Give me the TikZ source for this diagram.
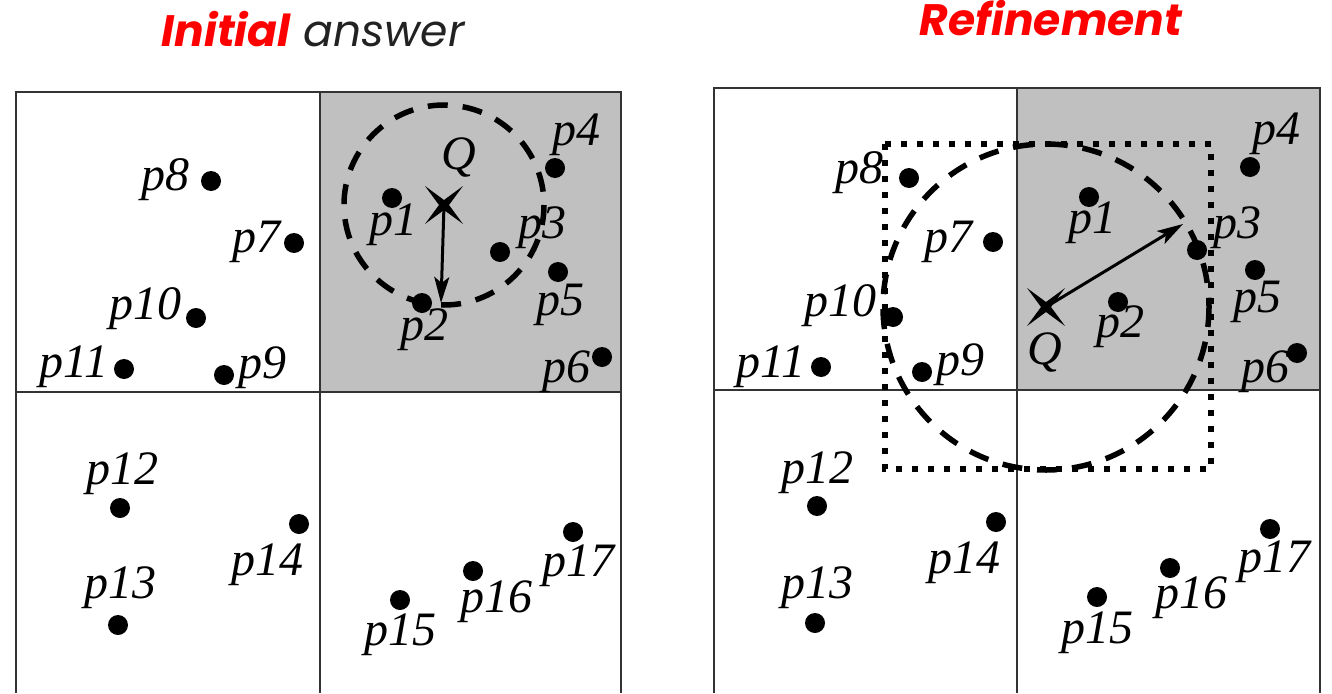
\documentclass[tikz,border=0pt]{standalone}
\usepackage{fontspec}
\usetikzlibrary{arrows.meta}
\newfontfamily\labfont{Liberation Serif}
\newfontfamily\titlefont{Poppins}
\definecolor{cellgray}{HTML}{C0C0C0}
\definecolor{linegray}{HTML}{333333}
\definecolor{titlered}{HTML}{FF0000}
\definecolor{titledark}{HTML}{222222}
\begin{document}
\begin{tikzpicture}[x=1pt,y=-1pt,
  dot/.style={circle,fill=black,inner sep=0pt,minimum size=20pt},
  lab/.style={inner sep=0pt,font=\fontsize{48}{48}\labfont\itshape},
  frame/.style={draw=linegray,line width=2.6pt},
  divider/.style={draw=linegray,line width=1.8pt},
  qcircle/.style={draw=black,line width=5.5pt,dash pattern=on 20pt off 15pt},
  qwindow/.style={draw=black,line width=6pt,dash pattern=on 6pt off 10pt},
  dist/.style={draw=black,line width=3pt,-{Stealth[length=26pt,width=15pt,inset=6pt]}},
  qmark/.style={fill=black},
  ttl/.style={inner sep=0pt,anchor=base,font=\fontsize{44}{46}\titlefont\itshape}
]
\useasboundingbox (0,0) rectangle (1332,693);
% ---------- titles
\node[ttl] (t1) at (313,47) {{\color{titlered}\bfseries Initial} {\color{titledark}answer}};
\node[ttl] (t2) at (1051,36) {\color{titlered}\bfseries Refinement};

% ================= LEFT PANEL =================
\fill[cellgray] (320,92) rectangle (621,392);
\draw[divider] (320,92) -- (320,693);
\draw[divider] (16,392) -- (621,392);
\draw[frame] (16,693) -- (16,92) -- (621,92) -- (621,693);

\coordinate (Q) at (444,205);
\coordinate (a1) at (441,303);
\draw[qcircle] (Q) circle[radius=100];
\draw[dist] (Q) -- (a1);
\fill[qmark,shift={(Q)}] (-19,-19) -- (0,-5) -- (19,-19) -- (5,0) -- (19,19) -- (0,5) -- (-19,19) -- (-5,0) -- cycle;
\node[lab] (lQ) at (459,157) {Q};

\node[dot] (p1) at (392,198) {};   \node[lab] (l1) at (393,225) {p1};
\node[dot] (p2) at (422,303) {};   \node[lab] (l2) at (424,330) {p2};
\node[dot] (p3) at (500,252) {};   \node[lab] (l3) at (542,228) {p3};
\node[dot] (p4) at (555,168) {};   \node[lab] (l4) at (576,135) {p4};
\node[dot] (p5) at (558,272) {};   \node[lab] (l5) at (560,305) {p5};
\node[dot] (p6) at (602,357) {};   \node[lab] (l6) at (566,372) {p6};
\node[dot] (p7) at (294,243) {};   \node[lab] (l7) at (256,242) {p7};
\node[dot] (p8) at (211,181) {};   \node[lab] (l8) at (165,180) {p8};
\node[dot] (p9) at (224,375) {};   \node[lab] (l9) at (262,368) {p9};
\node[dot] (p10) at (196,318) {};  \node[lab] (l10) at (145,309) {p10};
\node[dot] (p11) at (124,369) {};  \node[lab] (l11) at (74,367) {p11};
\node[dot] (p12) at (120,508) {};  \node[lab] (l12) at (122,474) {p12};
\node[dot] (p13) at (118,625) {};  \node[lab] (l13) at (120,588) {p13};
\node[dot] (p14) at (299,524) {};  \node[lab] (l14) at (267,565) {p14};
\node[dot] (p15) at (400,600) {};  \node[lab] (l15) at (400,635) {p15};
\node[dot] (p16) at (473,571) {};  \node[lab] (l16) at (496,602) {p16};
\node[dot] (p17) at (573,532) {};  \node[lab] (l17) at (578,566) {p17};

% ================= RIGHT PANEL =================
\fill[cellgray] (1017,88) rectangle (1320,390);
\draw[divider] (1017,88) -- (1017,693);
\draw[divider] (714,390) -- (1320,390);
\draw[frame] (714,693) -- (714,88) -- (1320,88) -- (1320,693);

\coordinate (Qr) at (1046,307);
\coordinate (a2) at (1183,224);
\draw[qwindow] (885,144) rectangle (1211,469);
\draw[qcircle] (Qr) circle[radius=163];
\draw[dist] (Qr) -- (a2);
\fill[qmark,shift={(Qr)}] (-19,-19) -- (0,-5) -- (19,-19) -- (5,0) -- (19,19) -- (0,5) -- (-19,19) -- (-5,0) -- cycle;
\node[lab] (rQ) at (1045,352) {Q};

\node[dot] (r1) at (1089,197) {};  \node[lab] (m1) at (1092,223) {p1};
\node[dot] (r2) at (1118,302) {};  \node[lab] (m2) at (1120,327) {p2};
\node[dot] (r3) at (1197,250) {};  \node[lab] (m3) at (1237,228) {p3};
\node[dot] (r4) at (1250,167) {};  \node[lab] (m4) at (1276,134) {p4};
\node[dot] (r5) at (1255,270) {};  \node[lab] (m5) at (1257,302) {p5};
\node[dot] (r6) at (1297,353) {};  \node[lab] (m6) at (1265,372) {p6};
\node[dot] (r7) at (993,242) {};   \node[lab] (m7) at (948,242) {p7};
\node[dot] (r8) at (909,178) {};   \node[lab] (m8) at (859,173) {p8};
\node[dot] (r9) at (922,372) {};   \node[lab] (m9) at (960,365) {p9};
\node[dot] (r10) at (893,317) {};  \node[lab] (m10) at (840,306) {p10};
\node[dot] (r11) at (821,367) {};  \node[lab] (m11) at (771,367) {p11};
\node[dot] (r12) at (817,506) {};  \node[lab] (m12) at (817,473) {p12};
\node[dot] (r13) at (815,623) {};  \node[lab] (m13) at (817,588) {p13};
\node[dot] (r14) at (996,522) {};  \node[lab] (m14) at (964,563) {p14};
\node[dot] (r15) at (1097,597) {}; \node[lab] (m15) at (1097,633) {p15};
\node[dot] (r16) at (1170,568) {}; \node[lab] (m16) at (1191,598) {p16};
\node[dot] (r17) at (1270,529) {}; \node[lab] (m17) at (1274,562) {p17};
\end{tikzpicture}
\end{document}
